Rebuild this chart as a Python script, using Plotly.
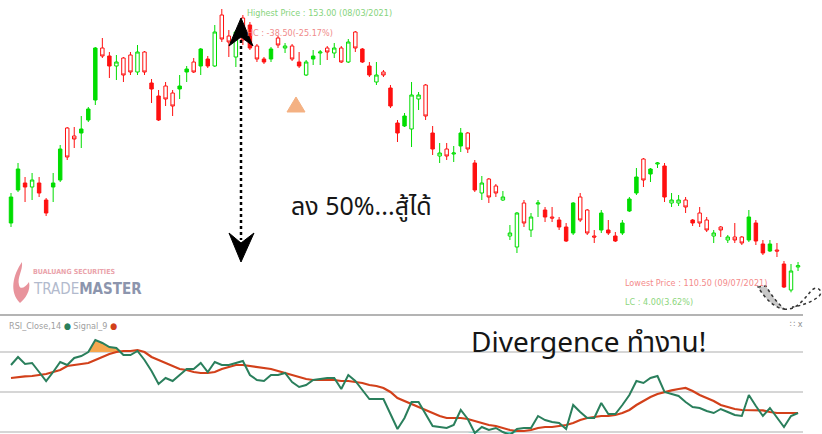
import plotly.graph_objects as go

W, H = 822, 434

# ---------------- data ----------------
opens = [120.9, 125.85, 126.9, 126.3, 126.9, 124.35, 126.3, 127.35, 135.15, 133.95,
         134.4, 136.35, 139.35, 147.15, 145.95, 144.45, 145.65, 146.1, 143.55, 146.55,
         141.9, 139.95, 141.45, 140.4, 141.0, 143.55, 145.05, 144.45, 145.5, 144.45,
         152.1, 148.95, 145.8, 151.65, 150.6, 147.45, 145.5, 145.5, 148.65, 147.15,
         147.45, 145.05, 143.1, 145.5, 146.4, 147.15, 146.4, 147.15, 145.05, 149.55,
         147.0, 144.45, 142.05, 143.55, 141.15, 135.9, 135.45, 135.0, 139.5, 141.6,
         134.4, 130.95, 132.0, 131.25, 132.45, 134.4, 129.9, 125.4, 127.5, 126.45,
         124.35, 118.95, 117.3, 123.9, 119.85, 123.75, 122.85, 121.8, 121.35, 120.3,
         119.4, 124.8, 122.85, 118.95, 119.85, 119.85, 118.95, 119.4, 122.7, 125.4,
         130.5, 128.25, 129.75, 129.45, 123.9, 123.9, 124.35, 121.35, 122.4, 121.35,
         118.95, 120.3, 118.35, 118.8, 118.8, 118.35, 120.9, 117.75, 116.7, 116.85,
         114.75, 110.85, 114.3]
highs = [125.4, 129.9, 127.8, 128.4, 127.8, 124.65, 128.4, 132.6, 135.3, 135.3,
         136.95, 138.3, 147.3, 148.65, 146.55, 146.1, 145.8, 146.55, 147.6, 146.7,
         142.5, 140.85, 142.05, 140.85, 143.1, 144.45, 145.65, 147.15, 145.95, 150.6,
         153.0, 149.85, 149.85, 152.1, 151.05, 147.75, 145.8, 147.3, 148.95, 147.9,
         147.75, 146.55, 145.35, 146.85, 146.85, 147.45, 147.9, 147.45, 148.5, 149.7,
         147.15, 145.05, 145.05, 143.85, 141.6, 136.35, 137.4, 142.05, 140.55, 141.75,
         135.45, 132.9, 132.9, 132.45, 135.15, 134.55, 130.35, 127.95, 127.65, 126.75,
         125.7, 120.6, 122.55, 124.35, 122.4, 124.35, 123.3, 123.3, 121.8, 120.9,
         124.05, 125.4, 123.0, 119.85, 122.85, 121.35, 119.55, 121.35, 124.8, 129.15,
         130.65, 129.15, 130.05, 129.9, 125.4, 125.1, 124.8, 121.5, 123.3, 121.8,
         119.85, 120.45, 119.1, 120.9, 118.95, 122.85, 121.35, 118.35, 118.35, 117.9,
         115.2, 114.75, 115.05]
lows = [120.3, 125.55, 124.05, 124.35, 124.8, 121.95, 124.05, 127.05, 130.35, 132.15,
        132.15, 136.05, 138.6, 145.65, 142.65, 142.35, 142.05, 143.1, 143.1, 143.1,
        138.9, 136.2, 138.45, 136.95, 139.5, 142.05, 143.4, 143.1, 144.15, 144.3,
        148.05, 145.8, 144.3, 147.6, 146.85, 145.05, 144.75, 145.05, 147.15, 146.4,
        145.2, 144.15, 142.95, 144.6, 144.6, 145.35, 145.65, 144.9, 144.9, 146.55,
        144.9, 142.8, 141.6, 142.8, 138.15, 133.05, 135.3, 132.3, 137.85, 136.35,
        131.1, 129.9, 130.35, 130.05, 131.55, 131.4, 125.55, 124.35, 123.9, 124.8,
        124.2, 118.35, 116.4, 120.3, 118.8, 121.8, 121.05, 121.05, 119.85, 118.05,
        119.1, 121.05, 119.1, 117.9, 119.4, 119.1, 118.05, 119.1, 122.55, 125.1,
        126.3, 127.05, 129.15, 124.05, 123.3, 123.45, 122.4, 120.45, 120.3, 119.55,
        117.9, 118.8, 117.9, 117.9, 117.6, 118.05, 117.6, 116.1, 116.55, 115.8,
        111.15, 110.5, 113.7]
closes = [124.8, 129.0, 126.3, 127.35, 125.4, 122.4, 126.9, 132.0, 130.8, 133.5,
          135.0, 138.0, 147.15, 145.95, 144.45, 145.05, 143.1, 143.55, 146.55, 143.55,
          141.0, 136.35, 139.5, 138.45, 141.45, 144.0, 143.55, 147.0, 144.45, 149.55,
          148.5, 148.05, 149.55, 148.35, 147.15, 145.5, 145.05, 147.0, 147.6, 147.45,
          145.5, 144.45, 145.05, 145.95, 146.55, 146.55, 147.15, 145.05, 148.05, 147.15,
          145.05, 143.1, 143.1, 143.1, 138.45, 134.4, 136.95, 140.1, 140.1, 136.95,
          132.0, 131.4, 130.95, 131.4, 134.4, 132.0, 125.85, 126.9, 124.8, 125.4,
          124.8, 119.4, 122.4, 120.9, 121.8, 123.9, 121.8, 121.65, 120.3, 118.2,
          123.9, 121.35, 119.4, 118.8, 122.4, 119.4, 118.2, 120.9, 124.5, 127.8,
          127.35, 129.0, 129.9, 124.8, 124.35, 124.35, 123.3, 120.9, 120.9, 119.85,
          119.4, 119.85, 118.8, 118.35, 117.9, 121.8, 118.2, 116.4, 117.75, 116.7,
          111.3, 113.7, 114.5]
styles = ("gF gF rF gH rF rF gF gF rH rH "
          "gF gF gF rH rF gH rH rH gH rH "
          "rF rF rH rH gF gF rH gF rF gH "
          "rH rH gH rH rF rH rF gF rH gH "
          "rH rF gH gF gH rH gH rH gH rH "
          "rF rF gH rH rF rF gF gH gH rH "
          "rF gH rH gH gF rH rF gH rH rH "
          "gH gH gH rH gH gH rF rH rF rF "
          "gF rH rH rH gF rF rF gF gF gF "
          "rH gF gH rF gH gH rH rF rH rH "
          "gH rH gH rH rH gF rF rF gF rH "
          "rF gH gH").split()
rsi = [63.5, 67.5, 64, 64.5, 60, 55.5, 60, 65, 63.5, 67,
       68, 70, 76, 74.5, 72.5, 72, 68.5, 68.5, 70.5, 66,
       60.5, 54, 57, 55.5, 58.5, 61.5, 61.5, 64.5, 60, 65,
       63.5, 63.5, 64.5, 65.5, 58.5, 56, 55.5, 58.5, 58.5, 59.5,
       55, 52.5, 53.5, 56, 56.5, 57, 57, 51.5, 58.5, 55.5,
       51, 46.5, 46.5, 46.5, 39, 31.5, 37, 45, 45, 39,
       33, 32.5, 32, 33.5, 41, 36.5, 29.5, 32.5, 31, 32,
       30, 28.5, 31.5, 32, 32, 38, 36, 35, 34.5, 31.5,
       43.5, 40, 37, 37, 44.5, 39, 39, 43.5, 48.5, 55.5,
       54.5, 57, 58, 50, 49, 48, 45, 42.5, 42, 40.5,
       39.5, 41.5, 40, 38.5, 38, 48.5, 43, 38, 42, 37,
       32.5, 38, 39.5]
signal = [57, 57.5, 57.8, 58, 58.5, 59, 60, 61, 63, 63.5,
          64, 64.5, 66, 67.5, 69, 70, 70.5, 70.5, 71, 70,
          67.5, 66, 64.5, 63, 61.5, 61, 60, 59.5, 59.5, 60,
          61.5, 62.5, 63.5, 63.5, 63, 62.5, 62, 61.5, 60.5, 59.5,
          58.5, 57.5, 56.5, 56, 56, 56, 56, 55.5, 55.5, 55,
          54.5, 53.5, 53, 52, 50, 47, 45.5, 44, 42.5, 41,
          39.5, 38, 37, 37, 37, 36.5, 35.5, 34.5, 33.5, 33,
          32, 31, 30.5, 30.5, 31, 32, 32.5, 32.5, 33, 33.5,
          34.5, 36, 37, 37.5, 38, 38, 38.5, 39.5, 41, 43.5,
          45.5, 47.5, 49, 50, 50.8, 51.5, 52, 50.5, 48.5, 47,
          45.5, 43.5, 42.5, 41.5, 41, 41, 41, 40.8, 40, 39.5,
          39.5, 39.5, 39.5]
rsi_levels = [70, 50, 30]
idx = list(range(len(closes)))

GREEN = "#00dd00"
RED = "#ff1010"


def px(x, y):
    return x / W, 1 - y / H


fig = go.Figure()

style_def = {"gF": (GREEN, GREEN), "gH": (GREEN, "white"),
             "rF": (RED, RED), "rH": (RED, "white")}
for s, (lc, fc) in style_def.items():
    sel = [i for i in idx if styles[i] == s]
    st = dict(line=dict(color=lc, width=1), fillcolor=fc)
    fig.add_trace(go.Candlestick(
        x=sel, open=[opens[i] for i in sel], high=[highs[i] for i in sel],
        low=[lows[i] for i in sel], close=[closes[i] for i in sel],
        increasing=st, decreasing=st, whiskerwidth=0, showlegend=False,
        hoverinfo="skip", xaxis="x", yaxis="y"))

# RSI fills
up = [max(r, 70) for r in rsi]
dn = [min(r, 30) for r in rsi]
fig.add_trace(go.Scatter(x=idx, y=[70] * len(idx), mode="lines", line=dict(width=0),
                         hoverinfo="skip", showlegend=False, yaxis="y2"))
fig.add_trace(go.Scatter(x=idx, y=up, mode="lines", line=dict(width=0), fill="tonexty",
                         fillcolor="#f6a74e", hoverinfo="skip", showlegend=False, yaxis="y2"))
fig.add_trace(go.Scatter(x=idx, y=[30] * len(idx), mode="lines", line=dict(width=0),
                         hoverinfo="skip", showlegend=False, yaxis="y2"))
fig.add_trace(go.Scatter(x=idx, y=dn, mode="lines", line=dict(width=0), fill="tonexty",
                         fillcolor="#3fd6c8", hoverinfo="skip", showlegend=False, yaxis="y2"))
fig.add_trace(go.Scatter(x=idx, y=signal, mode="lines", line=dict(color="#d2401a", width=2.2),
                         hoverinfo="skip", showlegend=False, yaxis="y2"))
fig.add_trace(go.Scatter(x=idx, y=rsi, mode="lines", line=dict(color="#2a7f5c", width=2),
                         hoverinfo="skip", showlegend=False, yaxis="y2"))

shapes = []
# RSI grid lines
for lv in rsi_levels:
    shapes.append(dict(type="line", xref="paper", yref="y2", x0=0, x1=803 / W, y0=lv, y1=lv,
                       line=dict(color="#c8c8c8", width=1.5), layer="below"))
x0, y0 = px(0, 315)
x1, _ = px(803, 315)
shapes.append(dict(type="line", xref="paper", yref="paper", x0=x0, x1=x1, y0=y0, y1=y0,
                   line=dict(color="#b4b4b4", width=2)))


def path(points, close=True):
    s = ""
    for k, (a, b) in enumerate(points):
        X, Y = px(a, b)
        s += ("M" if k == 0 else "L") + f"{X:.5f},{Y:.5f} "
    return s + ("Z" if close else "")


def cpath(cmds):
    s = ""
    for c, pts in cmds:
        s += c
        s += " ".join(f"{px(a, b)[0]:.5f},{px(a, b)[1]:.5f}" for a, b in pts) + " "
    return s


# dotted double arrow
ax0, ay0 = px(241, 40)
_, ay1 = px(241, 240)
shapes.append(dict(type="line", xref="paper", yref="paper", x0=ax0, x1=ax0, y0=ay0, y1=ay1,
                   line=dict(color="black", width=2.5, dash="dot")))
shapes.append(dict(type="path", xref="paper", yref="paper",
                   path=path([(241, 18), (253, 46), (241, 37), (229, 46)]),
                   fillcolor="black", line=dict(color="black", width=1)))
shapes.append(dict(type="path", xref="paper", yref="paper",
                   path=path([(241, 262), (229, 233), (241, 243), (254, 233)]),
                   fillcolor="black", line=dict(color="black", width=1)))
# orange triangle
shapes.append(dict(type="path", xref="paper", yref="paper",
                   path=path([(296, 97), (305, 112), (287, 112)]),
                   fillcolor="#f4b183", line=dict(color="#f4b183", width=1)))
# gray dotted swoosh near the low
shapes.append(dict(type="path", xref="paper", yref="paper",
                   path=cpath([("M", [(758, 287)]), ("L", [(766, 286)]),
                               ("C", [(771, 295), (777, 302), (784, 309)]),
                               ("C", [(775, 308), (766, 300), (758, 287)]), ("Z", [])]),
                   fillcolor="#c8c8c8", line=dict(color="#333", width=1.5, dash="dot")))
shapes.append(dict(type="path", xref="paper", yref="paper",
                   path=cpath([("M", [(784, 309)]),
                               ("C", [(796, 311), (804, 299), (811, 291)]),
                               ("C", [(817, 284), (825, 292), (818, 297)]),
                               ("C", [(812, 302), (801, 306), (792, 307)])]),
                   line=dict(color="#333", width=1.5, dash="dot")))
# logo flame
shapes.append(dict(type="path", xref="paper", yref="paper",
                   path=cpath([("M", [(22, 262)]),
                               ("C", [(13, 275), (9, 292), (20, 303)]),
                               ("C", [(25, 299), (31, 291), (29, 282)]),
                               ("C", [(25, 288), (20, 290), (19, 285)]),
                               ("C", [(17, 277), (23, 271), (22, 262)]), ("Z", [])]),
                   fillcolor="#e8939c", line=dict(width=0)))

NARROW = "Liberation Sans Narrow, DejaVu Sans Condensed, Arial Narrow, sans-serif"
THAI = "Noto Sans Thai, Noto Sans Thai UI, Noto Sans, DejaVu Sans, sans-serif"
ann = []


def txt(x, y, text, size, color, family=NARROW, anchor="left"):
    X, Y = px(x, y)
    ann.append(dict(x=X, y=Y, xref="paper", yref="paper", text=text, showarrow=False,
                    xanchor=anchor, yanchor="middle", font=dict(size=size, color=color, family=family)))


txt(245, 13, "Highest Price : 153.00 (08/03/2021)", 9, "#86d47c")
txt(245, 33, "HC : -38.50(-25.17%)", 9, "#f08a8a")
txt(623, 283, "Lowest Price : 110.50 (09/07/2021)", 9, "#f48a8a")
txt(623, 302, "LC : 4.00(3.62%)", 9, "#8cd67c")
txt(289, 207, "ลง 50%...สู้ได้", 25, "#161616", THAI)
txt(469, 343, "Divergence ทำงาน!", 28, "#161616", THAI)
txt(7, 326, "RSI_Close,14 <span style='color:#2a7f5c'>●</span> Signal_9 "
           "<span style='color:#d2401a'>●</span>", 9, "#a0a0a0")
txt(788, 324, "∷ x", 9, "#909090")
txt(31, 272, "<b>BUALUANG SECURITIES</b>", 7, "#eaa3ab")
txt(31, 289, "<span style='color:#b2bacd'>TRADE</span><b style='color:#8c95ad'>MASTER</b>",
    15, "#b2bacd")

fig.update_layout(
    width=W, height=H, margin=dict(l=0, r=0, t=0, b=0),
    paper_bgcolor="white", plot_bgcolor="white", showlegend=False,
    xaxis=dict(range=[-1.565, 115.41], visible=False, rangeslider=dict(visible=False),
               fixedrange=True),
    yaxis=dict(domain=[1 - 310 / H, 1], range=[107.85, 154.35], visible=False),
    yaxis2=dict(domain=[0, 1 - 315 / H], range=[29, 88.5], visible=False, anchor="x"),
    shapes=shapes, annotations=ann,
)

fig.write_html("out.html", config={"displayModeBar": False},
               post_script="document.body.style.margin='0';document.body.style.overflow='hidden';")
